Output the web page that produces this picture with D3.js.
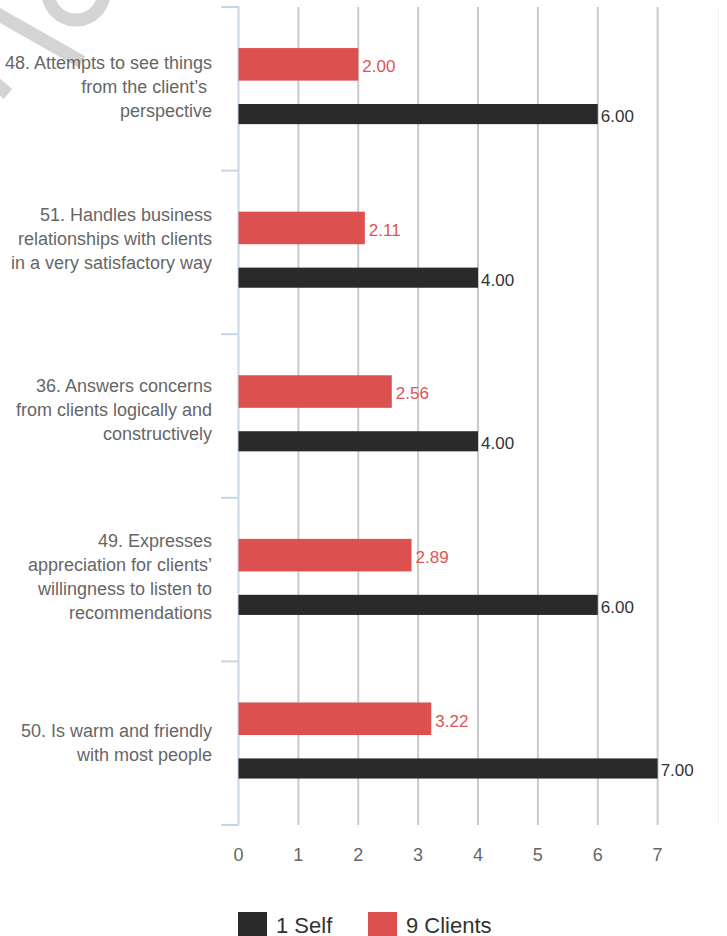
<!DOCTYPE html>
<html>
<head>
<meta charset="utf-8">
<script src="https://cdn.jsdelivr.net/npm/d3@7"></script>
<style>
  html, body { margin: 0; padding: 0; background: #fff; }
  svg { display: block; font-family: "Liberation Sans", Arial, sans-serif; }
</style>
</head>
<body>
<svg id="chart" width="727" height="936"></svg>
<script>
// ---- data ----
const categories = ["48", "51", "36", "49", "50"];
const categoryLabels = [
  ["48. Attempts to see things", "from the client\u2019s ", "perspective"],
  ["51. Handles business", "relationships with clients", "in a very satisfactory way"],
  ["36. Answers concerns", "from clients logically and", "constructively"],
  ["49. Expresses", "appreciation for clients\u2019", "willingness to listen to", "recommendations"],
  ["50. Is warm and friendly", "with most people"]
];
const selfValues = [6.00, 4.00, 4.00, 6.00, 7.00];
const clientValues = [2.00, 2.11, 2.56, 2.89, 3.22];
const xTicks = [0, 1, 2, 3, 4, 5, 6, 7];
const seriesNames = ["1 Self", "9 Clients"];

// ---- drawing ----
const svg = d3.select("#chart");
const RED = "#dc5050", BLACK = "#2a2a2a";

// watermark fragment
const wm = svg.append("g").attr("fill", "none").attr("stroke", "#d4d4d4").attr("stroke-width", 13);
wm.append("line").attr("x1", -6).attr("y1", 12).attr("x2", 82).attr("y2", 62);
wm.append("circle").attr("cx", 76).attr("cy", -8).attr("r", 28);
wm.append("line").attr("x1", -22).attr("y1", 68).attr("x2", 8).attr("y2", 94);

const x = d3.scaleLinear().domain([0, 8]).range([238.5, 717.5]);
const y = d3.scaleBand().domain(categories).range([7, 825]);
const bw = y.bandwidth();

// gridlines
svg.append("g").selectAll("line").data(xTicks.slice(1)).join("line")
  .attr("x1", d => x(d)).attr("x2", d => x(d))
  .attr("y1", 7).attr("y2", 825)
  .attr("stroke", "#cacaca").attr("stroke-width", 2);
svg.append("line").attr("x1", x(8) + 1).attr("x2", x(8) + 1).attr("y1", 7).attr("y2", 825)
  .attr("stroke", "#efefef").attr("stroke-width", 1);

// category axis
const axisColor = "#c7d5e6";
svg.append("line").attr("x1", x(0)).attr("x2", x(0)).attr("y1", 6).attr("y2", 825)
  .attr("stroke", axisColor).attr("stroke-width", 2);
const bounds = categories.map(c => y(c)).concat([y.range()[1]]);
svg.append("g").selectAll("line").data(bounds).join("line")
  .attr("x1", 221).attr("x2", x(0)).attr("y1", d => d).attr("y2", d => d)
  .attr("stroke", axisColor).attr("stroke-width", 2);

// bars
const redOff = bw * 0.251, redH = bw * 0.199;
const blkOff = bw * 0.593, blkH = bw * 0.123;
svg.append("g").selectAll("rect").data(categories).join("rect")
  .attr("x", x(0)).attr("y", c => y(c) + redOff)
  .attr("width", (c, i) => x(clientValues[i]) - x(0)).attr("height", redH)
  .attr("fill", RED);
svg.append("g").selectAll("rect").data(categories).join("rect")
  .attr("x", x(0)).attr("y", c => y(c) + blkOff)
  .attr("width", (c, i) => x(selfValues[i]) - x(0)).attr("height", blkH)
  .attr("fill", BLACK);

// value labels
const vfont = 17;
svg.append("g").selectAll("text").data(categories).join("text")
  .attr("x", (c, i) => x(clientValues[i]) + 4)
  .attr("y", c => y(c) + redOff + redH / 2 + 2)
  .attr("dy", "0.35em").attr("font-size", vfont).attr("fill", "#e05353")
  .text((c, i) => clientValues[i].toFixed(2));
svg.append("g").selectAll("text").data(categories).join("text")
  .attr("x", (c, i) => x(selfValues[i]) + 3)
  .attr("y", c => y(c) + blkOff + blkH / 2 + 2)
  .attr("dy", "0.35em").attr("font-size", vfont).attr("fill", "#333")
  .text((c, i) => selfValues[i].toFixed(2));

// category labels
const labelShift = [-2, -14, -6, -3, -1];
const lh = 24;
categories.forEach((c, i) => {
  const lines = categoryLabels[i];
  const cy = y(c) + bw / 2 + labelShift[i];
  const t = svg.append("text").attr("text-anchor", "end").attr("font-size", 18)
    .attr("fill", "#666").style("white-space", "pre");
  lines.forEach((ln, j) => {
    t.append("tspan").attr("x", 212)
      .attr("y", cy + (j - (lines.length - 1) / 2) * lh)
      .attr("dy", "0.35em").text(ln);
  });
});

// x tick labels
svg.append("g").selectAll("text").data(xTicks).join("text")
  .attr("x", d => x(d)).attr("y", 855).attr("dy", "0.35em")
  .attr("text-anchor", "middle").attr("font-size", 18).attr("fill", "#666")
  .text(d => d);

// legend
const legendColors = [BLACK, RED];
const lg = svg.append("g").selectAll("g").data(seriesNames).join("g")
  .attr("transform", (d, i) => `translate(${[238, 368][i]},912)`);
lg.append("rect").attr("width", 29).attr("height", 29).attr("fill", (d, i) => legendColors[i]);
lg.append("text").attr("x", 38).attr("y", 21).attr("font-size", 22).attr("fill", "#333")
  .text(d => d);
</script>
</body>
</html>
